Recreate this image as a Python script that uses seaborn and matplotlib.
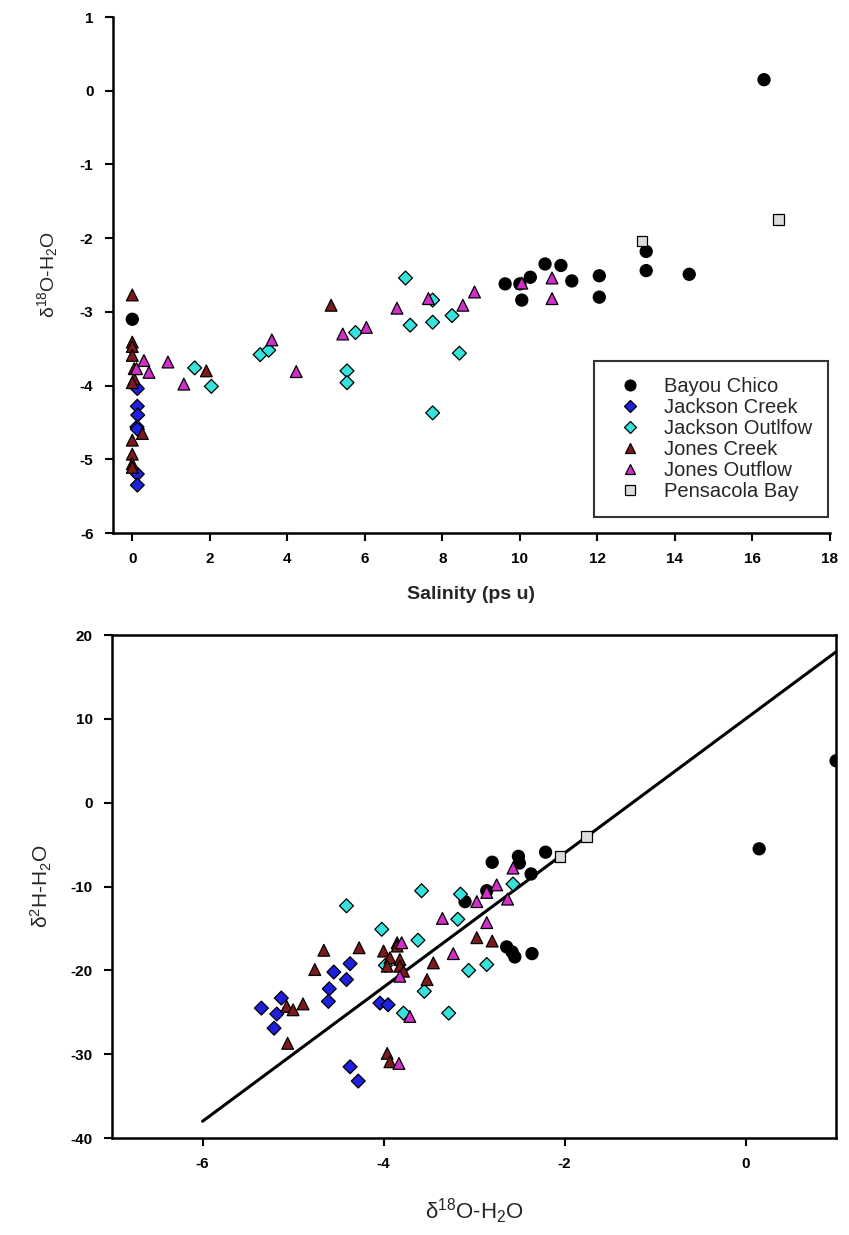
import matplotlib
matplotlib.use("Agg")
import matplotlib.pyplot as plt
import seaborn as sns
import pandas as pd

sites = ["Bayou Chico", "Jackson Creek", "Jackson Outlfow", "Jones Creek", "Jones Outflow", "Pensacola Bay"]

# top panel: salinity vs d18O
sal_bc = [0.0, 9.62, 10.0, 10.05, 10.27, 10.65, 11.06, 11.34, 12.05, 12.05, 13.26, 13.26, 14.37, 16.3]
o18_bc = [-3.10, -2.62, -2.62, -2.84, -2.53, -2.35, -2.37, -2.58, -2.51, -2.80, -2.18, -2.44, -2.49, 0.15]
sal_jc = [0.13, 0.13, 0.14, 0.12, 0.13, 0.13, 0.13]
o18_jc = [-4.04, -4.28, -4.40, -4.56, -4.59, -5.20, -5.35]
sal_jo = [1.61, 2.04, 3.30, 3.52, 5.54, 5.54, 5.76, 7.05, 7.17, 7.75, 7.75, 7.75, 8.25, 8.44]
o18_jo = [-3.76, -4.01, -3.58, -3.52, -3.80, -3.96, -3.28, -2.54, -3.18, -2.84, -3.14, -4.37, -3.05, -3.56]
sal_nc = [0.0, 0.0, 0.0, 0.0, 0.05, 0.05, 0.0, 0.26, 0.0, 0.0, 0.0, 0.0, 1.91, 5.13]
o18_nc = [-2.77, -3.41, -3.47, -3.59, -3.77, -3.91, -3.96, -4.65, -4.74, -4.93, -5.06, -5.11, -3.80, -2.91]
sal_no = [0.11, 0.30, 0.43, 0.92, 1.33, 3.60, 4.23, 5.43, 6.04, 6.83, 7.64, 8.53, 8.83, 10.05, 10.83, 10.83]
o18_no = [-3.77, -3.66, -3.82, -3.68, -3.98, -3.38, -3.81, -3.30, -3.21, -2.95, -2.82, -2.91, -2.73, -2.61, -2.54, -2.82]
sal_pb = [13.15, 16.68]
o18_pb = [-2.04, -1.75]

# bottom panel: d18O vs d2H
x_bc = [-2.80, -2.51, -2.50, -2.21, -2.37, -2.86, -3.10, -2.64, -2.58, -2.55, -2.36, 0.15, 1.0]
h2_bc = [-7.1, -6.4, -7.2, -5.9, -8.5, -10.5, -11.8, -17.2, -17.8, -18.4, -18.0, -5.5, 5.0]
x_jc = [-4.37, -4.55, -4.41, -4.60, -4.61, -5.35, -5.13, -5.18, -5.21, -4.37, -4.28, -4.04, -3.95]
h2_jc = [-19.2, -20.2, -21.1, -22.2, -23.7, -24.5, -23.3, -25.2, -26.9, -31.5, -33.2, -23.9, -24.1]
x_jo = [-4.41, -4.02, -3.58, -3.62, -3.98, -3.78, -3.15, -2.57, -3.18, -2.86, -3.06, -3.28, -3.55]
h2_jo = [-12.3, -15.1, -10.5, -16.4, -19.4, -25.1, -10.9, -9.7, -13.9, -19.3, -20.0, -25.1, -22.5]
x_nc = [-4.66, -4.27, -4.76, -5.07, -5.00, -4.89, -5.06, -3.85, -4.00, -3.93, -3.82, -3.96, -3.82,
        -3.78, -3.96, -3.93, -3.52, -2.97, -2.80, -3.45, -3.85]
h2_nc = [-17.6, -17.3, -19.9, -24.3, -24.7, -24.0, -28.7, -16.7, -17.7, -18.5, -18.7, -19.5, -19.5,
         -20.1, -29.9, -30.9, -21.1, -16.1, -16.5, -19.1, -17.1]
x_no = [-3.80, -3.82, -3.71, -3.83, -2.57, -2.75, -2.86, -2.63, -2.97, -3.35, -2.86, -3.23]
h2_no = [-16.7, -20.7, -25.5, -31.1, -7.8, -9.8, -10.7, -11.5, -11.8, -13.8, -14.3, -18.0]
x_pb = [-2.05, -1.76]
h2_pb = [-6.4, -4.0]

# meteoric water line end points
mwl_x = [-6, 1]
mwl_y = [-38, 18]

top_x = [sal_bc, sal_jc, sal_jo, sal_nc, sal_no, sal_pb]
top_y = [o18_bc, o18_jc, o18_jo, o18_nc, o18_no, o18_pb]
bot_x = [x_bc, x_jc, x_jo, x_nc, x_no, x_pb]
bot_y = [h2_bc, h2_jc, h2_jo, h2_nc, h2_no, h2_pb]

def long_df(xs, ys, xname, yname):
    parts = []
    for site, xv, yv in zip(sites, xs, ys):
        parts.append(pd.DataFrame({xname: xv, yname: yv, "site": site}))
    return pd.concat(parts, ignore_index=True)

df_top = long_df(top_x, top_y, "salinity", "d18O")
df_bot = long_df(bot_x, bot_y, "d18O", "d2H")

palette = {"Bayou Chico": "black", "Jackson Creek": "#1f1fe0", "Jackson Outlfow": "#35e3dc",
           "Jones Creek": "#7a1a1a", "Jones Outflow": "#d030c8", "Pensacola Bay": "#dcdcdc"}
markers = {"Bayou Chico": "o", "Jackson Creek": "D", "Jackson Outlfow": "D",
           "Jones Creek": "^", "Jones Outflow": "^", "Pensacola Bay": "s"}
sizes = {"Bayou Chico": 75, "Jackson Creek": 50, "Jackson Outlfow": 50,
         "Jones Creek": 72, "Jones Outflow": 72, "Pensacola Bay": 58}

sns.set_style("ticks")
plt.rcParams["font.family"] = ["Liberation Sans", "DejaVu Sans"]
plt.rcParams["mathtext.fontset"] = "custom"
plt.rcParams["mathtext.rm"] = "Liberation Sans"
plt.rcParams["mathtext.it"] = "Liberation Sans:italic"
plt.rcParams["mathtext.bf"] = "Liberation Sans:bold"
plt.rcParams["axes.unicode_minus"] = False

fig = plt.figure(figsize=(8.49, 12.35), dpi=100)
ax1 = fig.add_axes([0.133, 0.5684, 0.8445, 0.4178])
ax2 = fig.add_axes([0.132, 0.0785, 0.8528, 0.4073])

sns.scatterplot(data=df_top, x="salinity", y="d18O", hue="site", style="site", size="site",
                palette=palette, markers=markers, sizes=sizes, edgecolor="black", linewidth=0.9,
                alpha=1, ax=ax1, zorder=3)
sns.lineplot(x=mwl_x, y=mwl_y, color="black", lw=2.2, ax=ax2, zorder=2)
sns.scatterplot(data=df_bot, x="d18O", y="d2H", hue="site", style="site", size="site",
                palette=palette, markers=markers, sizes=sizes, edgecolor="black", linewidth=0.9,
                alpha=1, ax=ax2, legend=False, zorder=3)

ax1.set_xlim(-0.5, 18)
ax1.set_ylim(-6, 1)
ax1.set_xticks(range(0, 19, 2))
ax1.set_yticks(range(-6, 2))
sns.despine(ax=ax1)
ax1.set_xlabel("Salinity (ps u)", fontsize=14, fontweight="bold", labelpad=14)
ax1.set_ylabel(r"δ$^{18}$O-H$_2$O", fontsize=14, labelpad=14)

ax2.set_xlim(-7, 1)
ax2.set_ylim(-40, 20)
ax2.set_xticks([-6, -4, -2, 0])
ax2.set_yticks(range(-40, 21, 10))
ax2.set_xlabel(r"δ$^{18}$O-H$_2$O", fontsize=16, labelpad=18)
ax2.set_ylabel(r"δ$^{2}$H-H$_2$O", fontsize=15, labelpad=12)

for ax in (ax1, ax2):
    for sp in ax.spines.values():
        sp.set_linewidth(1.8)
        sp.set_color("black")
    ax.tick_params(direction="out", length=6, width=1.5, labelsize=11, pad=8, colors="black")
    for lab in ax.get_xticklabels() + ax.get_yticklabels():
        lab.set_fontweight("bold")

sns.move_legend(ax1, "lower right", bbox_to_anchor=(0.997, 0.031), title=None, frameon=True,
                fancybox=False, fontsize=14.5, labelspacing=0.1, borderpad=0.8,
                handletextpad=0.65, handlelength=2.0, borderaxespad=0, markerscale=0.9)
leg = ax1.get_legend()
leg.get_frame().set_edgecolor("black")
leg.get_frame().set_linewidth(1.5)

fig.savefig("out.png", dpi=100)
